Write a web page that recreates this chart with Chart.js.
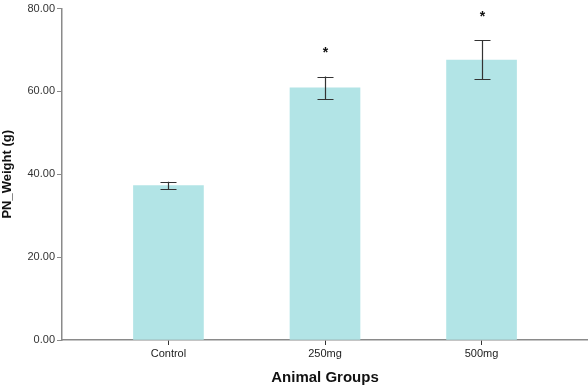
<!DOCTYPE html>
<html>
<head>
<meta charset="utf-8">
<script src="https://cdn.jsdelivr.net/npm/chart.js@4"></script>
<style>
  body { margin: 0; background: #fff; }
  #wrap { width: 588px; height: 387px; }
</style>
</head>
<body>
<div id="wrap"><canvas id="myChart"></canvas></div>
<script>
const categories = ['Control', '250mg', '500mg'];
const means = [37.3, 60.9, 67.6];
const errs = [0.9, 2.7, 4.7];
const marks = ['', '*', '*'];
const yTicks = [0, 20, 40, 60, 80];

const axisColor = '#8a8a8a';
const font = 'Liberation Sans, Arial, sans-serif';

// error bars and significance stars
const errorBars = {
  id: 'errorBars',
  afterDatasetsDraw(chart) {
    const { ctx, scales: { x, y } } = chart;
    ctx.save();
    ctx.strokeStyle = '#333';
    ctx.lineWidth = 1.2;
    means.forEach((m, i) => {
      const px = Math.round(x.getPixelForValue(i)) + 0.5;
      const top = y.getPixelForValue(m + errs[i]);
      const bot = y.getPixelForValue(m - errs[i]);
      ctx.beginPath();
      ctx.moveTo(px, top); ctx.lineTo(px, bot);
      ctx.moveTo(px - 8, Math.round(top) + 0.5); ctx.lineTo(px + 8, Math.round(top) + 0.5);
      ctx.moveTo(px - 8, Math.round(bot) + 0.5); ctx.lineTo(px + 8, Math.round(bot) + 0.5);
      ctx.stroke();
      if (marks[i]) {
        ctx.fillStyle = '#111';
        ctx.font = 'bold 14px ' + font;
        ctx.textAlign = 'center';
        ctx.textBaseline = 'middle';
        ctx.fillText(marks[i], px, top - 23);
      }
    });
    ctx.restore();
  }
};

new Chart(document.getElementById('myChart'), {
  type: 'bar',
  data: {
    datasets: [{
      data: means.map((v, i) => ({ x: i, y: v })),
      backgroundColor: 'rgb(178,228,230)',
      barThickness: 70
    }]
  },
  options: {
    responsive: true,
    maintainAspectRatio: false,
    animation: false,
    layout: { padding: { top: 3, right: 0, left: 0, bottom: 0 } },
    plugins: { legend: { display: false }, tooltip: { enabled: false } },
    scales: {
      x: {
        type: 'linear',
        offset: false,
        min: -0.68,
        max: 2.68,
        afterBuildTicks: s => { s.ticks = categories.map((c, i) => ({ value: i })); },
        ticks: {
          callback: v => categories[v],
          color: '#222',
          font: { family: font, size: 11 },
          padding: 2,
          maxRotation: 0
        },
        grid: { display: true, offset: false, drawOnChartArea: false, drawTicks: true, tickLength: 5, color: '#333' },
        border: { color: axisColor, width: 1.5 },
        title: {
          display: true,
          text: 'Animal Groups',
          color: '#111',
          font: { family: font, size: 15, weight: 'bold' },
          padding: { top: 6, bottom: 0 }
        },
        afterFit: s => { s.height = 47; }
      },
      y: {
        min: 0,
        max: 80,
        afterBuildTicks: s => { s.ticks = yTicks.map(v => ({ value: v })); },
        ticks: {
          callback: v => v.toFixed(2),
          color: '#333',
          font: { family: font, size: 11 },
          padding: 2
        },
        grid: { display: true, drawOnChartArea: false, drawTicks: true, tickLength: 5, color: axisColor },
        border: { color: axisColor, width: 1.5 },
        title: {
          display: true,
          text: 'PN_Weight (g)',
          color: '#111',
          font: { family: font, size: 13, weight: 'bold' },
          padding: { top: 0, bottom: 2 }
        },
        afterFit: s => { s.width = 62; }
      }
    }
  },
  plugins: [errorBars]
});
</script>
</body>
</html>
